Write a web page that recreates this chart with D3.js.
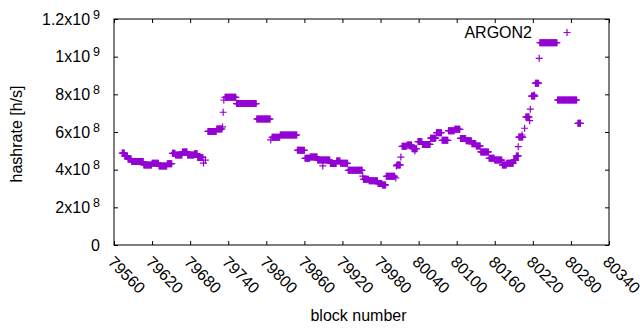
<!DOCTYPE html>
<html><head><meta charset="utf-8">
<script src="https://cdn.jsdelivr.net/npm/d3@7"></script>
<style>body{margin:0;background:#fff}text{font-family:"Liberation Sans",Arial,sans-serif}</style>
</head><body>
<svg id="c" width="640" height="330"></svg>
<script>
// Runs of consecutive blocks with equal hashrate (first block, last block, h/s)
const runStart = [79573,79577,79582,79588,79607,79620,79631,79644,79652,79657,79668,79676,79687,79692,79701,79704,
  79708,79722,79731,79732,79733,79735,79753,79785,79807,79809,79822,79849,79861,79869,79881,79889,79901,79911,79917,
  79929,79952,79953,79962,79976,79983,79989,80004,80005,80006,80012,80014,80022,80030,80034,80039,80046,80059,80068,
  80077,80087,80097,80106,80115,80124,80131,80138,80151,80160,80172,80179,80190,80194,80197,80198,80203,80207,80209,
  80215,80216,80218,80222,80224,80230,80231,80259,80291];
const runEnd = [79576,79581,79587,79606,79619,79630,79643,79651,79656,79667,79675,79686,79691,79700,79701,79704,
  79721,79730,79731,79732,79733,79752,79784,79806,79807,79821,79848,79860,79868,79880,79900,79889,79910,79916,79928,
  79951,79952,79961,79975,79982,79988,80002,80004,80005,80011,80012,80021,80029,80037,80034,80045,80058,80067,80076,
  80086,80096,80105,80114,80123,80130,80137,80150,80159,80171,80178,80189,80193,80197,80197,80204,80203,80207,80214,
  80215,80216,80223,80222,80229,80230,80258,80289,80295];
const runValue = [4.88e8,4.73e8,4.57e8,4.43e8,4.25e8,4.34e8,4.20e8,4.32e8,4.87e8,4.78e8,4.94e8,4.78e8,4.85e8,4.65e8,4.35e8,4.51e8,
  6.03e8,6.16e8,6.27e8,7.05e8,7.70e8,7.84e8,7.51e8,6.69e8,5.58e8,5.72e8,5.84e8,5.03e8,4.60e8,4.67e8,4.51e8,4.20e8,4.33e8,4.46e8,4.34e8,
  3.97e8,3.66e8,3.49e8,3.41e8,3.26e8,3.19e8,3.65e8,3.56e8,4.20e8,4.25e8,4.67e8,5.24e8,5.31e8,5.11e8,4.99e8,5.49e8,5.34e8,5.67e8,5.96e8,
  5.56e8,6.07e8,6.14e8,5.66e8,5.54e8,5.38e8,5.26e8,4.94e8,4.60e8,4.51e8,4.25e8,4.34e8,4.51e8,4.73e8,5.22e8,5.73e8,5.84e8,6.20e8,6.80e8,
  6.60e8,7.21e8,7.91e8,7.97e8,8.59e8,9.91e8,1.074e9,7.70e8,6.46e8];

const yTicks = [0,2e8,4e8,6e8,8e8,1e9,1.2e9];
const xTicks = [79560,79620,79680,79740,79800,79860,79920,79980,80040,80100,80160,80220,80280,80340];
const seriesName = "ARGON2";
const xTitle = "block number";
const yTitle = "hashrate [h/s]";

const L=114, R=609, T=19, B=245, color="#9400d3";
const svg = d3.select("#c");
const x = d3.scaleLinear().domain([79560,80340]).range([L,R]);
const y = d3.scaleLinear().domain([0,1.2e9]).range([B,T]);

const pts = [];
runStart.forEach((s,i)=>{ for(let b=s;b<=runEnd[i];b++) pts.push([b,runValue[i]]); });

const tk = 4;
const axB = svg.append("g").attr("transform",`translate(0,${B})`).call(d3.axisBottom(x).tickValues(xTicks).tickSizeInner(-tk).tickSizeOuter(0).tickFormat(""));
const axT = svg.append("g").attr("transform",`translate(0,${T})`).call(d3.axisTop(x).tickValues(xTicks).tickSizeInner(-tk).tickSizeOuter(0).tickFormat(""));
const axLft = svg.append("g").attr("transform",`translate(${L},0)`).call(d3.axisLeft(y).tickValues(yTicks).tickSizeInner(-tk).tickSizeOuter(0).tickFormat(""));
const axRt = svg.append("g").attr("transform",`translate(${R},0)`).call(d3.axisRight(y).tickValues(yTicks).tickSizeInner(-tk).tickSizeOuter(0).tickFormat(""));
svg.selectAll(".domain").remove();
svg.selectAll(".tick line").attr("stroke","#000");
svg.append("rect").attr("x",L).attr("y",T).attr("width",R-L).attr("height",B-T)
  .attr("fill","none").attr("stroke","#000").attr("stroke-width",1);

// y tick labels
yTicks.forEach(v=>{
  const t = svg.append("text").attr("x",100).attr("y",y(v)+5.5).attr("text-anchor","end")
    .attr("font-size",16).attr("fill","#000");
  if(v===0){ t.text("0"); return; }
  const e = Math.floor(Math.log10(v)+1e-9), m = +(v/Math.pow(10,e)).toFixed(2);
  t.append("tspan").text(m+"x10");
  t.append("tspan").attr("dx",3).attr("dy",-6).attr("font-size",12.5).text(e);
});
// x tick labels
xTicks.forEach(v=>{
  svg.append("text").attr("transform",`translate(${x(v)-7},${B+18}) rotate(45)`)
    .attr("font-size",16).attr("fill","#000").text(v);
});
svg.append("text").attr("x",(L+R)/2-3).attr("y",321).attr("text-anchor","middle").attr("font-size",16).text(xTitle);
svg.append("text").attr("transform","translate(22,134) rotate(-90)").attr("text-anchor","middle").attr("font-size",16).text(yTitle);

const h = 3.5;
const plus = d => `M${-h},0H${h}M0,${-h}V${h}`;
svg.append("g").attr("stroke",color).attr("stroke-width",1.2).selectAll("path").data(pts).join("path")
  .attr("transform",d=>`translate(${x(d[0])},${y(d[1])})`).attr("d",plus);

// key
svg.append("text").attr("x",532).attr("y",38).attr("text-anchor","end").attr("font-size",16).text(seriesName);
svg.append("path").attr("transform","translate(567,32.5)").attr("d",plus()).attr("stroke",color).attr("stroke-width",1.2);
</script>
</body></html>
